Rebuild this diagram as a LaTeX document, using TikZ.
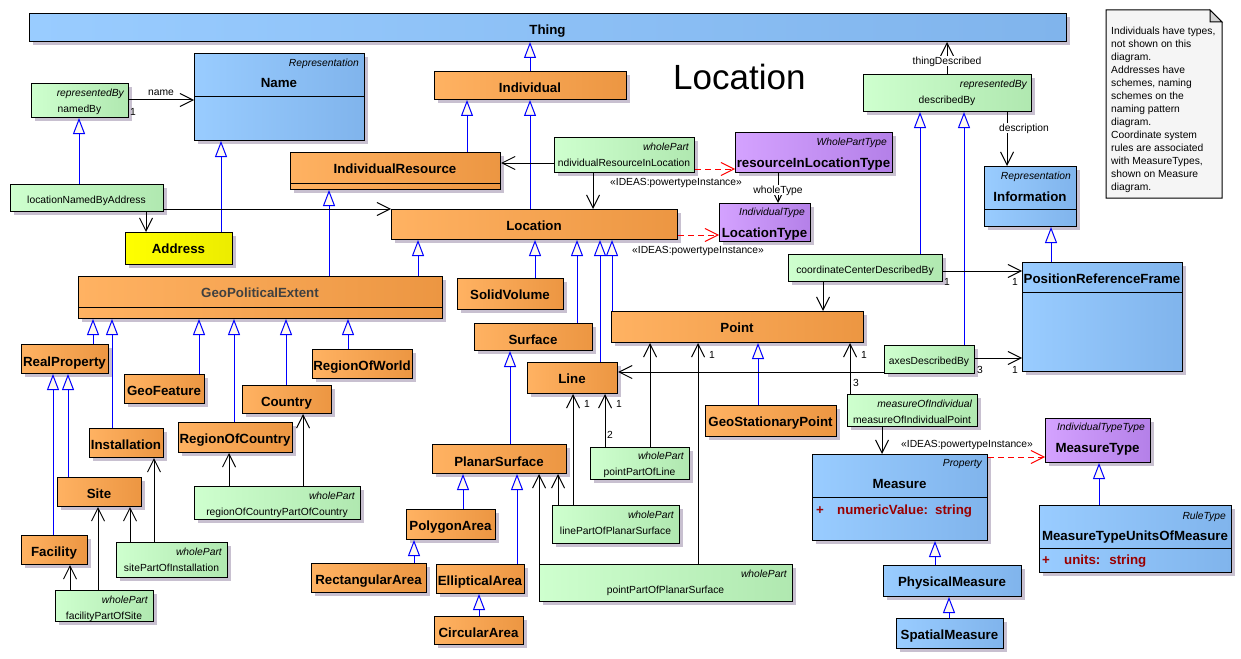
\documentclass[tikz,border=0pt]{standalone}
\usepackage{fontspec}
\setmainfont{Liberation Sans}
\usetikzlibrary{arrows.meta}
\definecolor{oL}{RGB}{255,178,98}
\definecolor{oR}{RGB}{236,150,66}
\definecolor{bL}{RGB}{153,204,255}
\definecolor{bR}{RGB}{128,180,236}
\definecolor{gL}{RGB}{206,255,206}
\definecolor{gR}{RGB}{176,232,176}
\definecolor{pL}{RGB}{212,162,255}
\definecolor{pR}{RGB}{180,128,232}
\definecolor{yL}{RGB}{255,255,0}
\definecolor{yR}{RGB}{236,236,0}
\definecolor{shadowc}{RGB}{200,192,208}
\definecolor{trifill}{RGB}{255,250,238}
\definecolor{genblue}{RGB}{0,0,255}
\definecolor{attrred}{RGB}{153,0,0}
\definecolor{gpegray}{RGB}{64,64,64}
\definecolor{notefill}{RGB}{245,245,245}
\definecolor{foldfill}{RGB}{210,210,210}
\tikzset{
  box/.style={draw=black, line width=1pt, inner sep=0pt, anchor=north west},
  orangeb/.style={box, left color=oL, right color=oR},
  blueb/.style={box, left color=bL, right color=bR},
  greenb/.style={box, left color=gL, right color=gR},
  purpleb/.style={box, left color=pL, right color=pR},
  yellowb/.style={box, left color=yL, right color=yR},
  cname/.style={font=\fontsize{13.3}{15}\selectfont\bfseries, inner sep=0pt, text height=9.5pt, text depth=0pt},
  stereo/.style={font=\fontsize{10.3}{12}\selectfont\itshape, inner sep=0pt, text height=7.4pt, text depth=0pt, anchor=east},
  small/.style={font=\fontsize{10.3}{12}\selectfont, inner sep=0pt, text height=7.4pt, text depth=0pt},
  lbl/.style={small, fill=white, inner sep=1pt},
  attr/.style={font=\fontsize{13.3}{15}\selectfont\bfseries, text=attrred, inner sep=0pt, text height=9.5pt, text depth=0pt},
  divider/.style={draw=black, line width=1pt},
  gen/.style={draw=genblue, line width=1pt, -{Triangle[width=12pt,length=16pt,fill=trifill]}},
  assoc/.style={draw=black, line width=1pt, -{Straight Barb[length=13pt,width=13pt]}},
  dep/.style={draw=red, line width=1pt, dash pattern=on 6pt off 4pt, -{Straight Barb[length=13pt,width=13pt]}},
}
\newcommand{\ubox}[6]{%
  \fill[shadowc] ({#3+4},{#4+4}) rectangle ({#5+4},{#6+4});
  \node[#2, minimum width={#5-#3}, minimum height={#6-#4}] (#1) at (#3,#4) {};
}
\begin{document}
\begin{tikzpicture}[x=1pt,y=-1pt]
\useasboundingbox (0,0) rectangle (1241,658);
\fill[white] (0,0) rectangle (1241,658);

% ---------- boxes ----------
\ubox{Thing}{blueb}{29}{13}{1066}{41}
\ubox{Name}{blueb}{194}{53}{364}{140}
\ubox{namedBy}{greenb}{31}{83}{128}{117}
\ubox{LNBA}{greenb}{10}{184}{163}{211}
\ubox{Individual}{orangeb}{434}{71}{626}{99}
\ubox{IndRes}{orangeb}{290}{152}{500}{189}
\ubox{IRIL}{greenb}{554}{137}{694}{172}
\ubox{RILT}{purpleb}{735}{132}{892}{172}
\ubox{LocationType}{purpleb}{719}{203}{810}{241}
\ubox{Location}{orangeb}{391}{209}{677}{239}
\ubox{Address}{yellowb}{125}{232}{232}{264}
\ubox{GPE}{orangeb}{78}{276}{442}{318}
\ubox{SolidVolume}{orangeb}{457}{278}{563}{309}
\ubox{Surface}{orangeb}{474}{323}{592}{350}
\ubox{Line}{orangeb}{527}{362}{617}{393}
\ubox{Point}{orangeb}{611}{311}{863}{342}
\ubox{GSP}{orangeb}{705}{405}{836}{436}
\ubox{RealProperty}{orangeb}{21}{344}{108}{373}
\ubox{GeoFeature}{orangeb}{124}{374}{204}{403}
\ubox{Country}{orangeb}{242}{385}{331}{413}
\ubox{RegionOfWorld}{orangeb}{312}{349}{412}{378}
\ubox{Installation}{orangeb}{89}{428}{163}{457}
\ubox{RegionOfCountry}{orangeb}{178}{422}{292}{452}
\ubox{Site}{orangeb}{57}{477}{141}{506}
\ubox{Facility}{orangeb}{21}{535}{87}{564}
\ubox{ROCPOC}{greenb}{194}{486}{360}{519}
\ubox{SPOI}{greenb}{116}{542}{227}{577}
\ubox{FPOS}{greenb}{55}{590}{153}{621}
\ubox{PlanarSurface}{orangeb}{432}{444}{566}{473}
\ubox{PolygonArea}{orangeb}{406}{509}{495}{539}
\ubox{RectArea}{orangeb}{311}{563}{426}{592}
\ubox{EllArea}{orangeb}{436}{564}{524}{593}
\ubox{CircArea}{orangeb}{434}{616}{523}{644}
\ubox{PPOL}{greenb}{590}{447}{689}{479}
\ubox{LPOPS}{greenb}{552}{505}{679}{543}
\ubox{PPOPS}{greenb}{539}{564}{792}{601}
\ubox{describedBy}{greenb}{863}{74}{1031}{111}
\ubox{Information}{blueb}{984}{166}{1076}{226}
\ubox{CCDB}{greenb}{788}{254}{942}{281}
\ubox{ADB}{greenb}{884}{345}{974}{373}
\ubox{PRF}{blueb}{1022}{262}{1182}{371}
\ubox{MOIP}{greenb}{847}{394}{977}{426}
\ubox{Measure}{blueb}{812}{454}{987}{540}
\ubox{MeasureType}{purpleb}{1045}{418}{1150}{462}
\ubox{MTUOM}{blueb}{1039}{505}{1231}{572}
\ubox{PhysMeasure}{blueb}{883}{565}{1021}{596}
\ubox{SpatMeasure}{blueb}{896}{618}{1003}{648}

% ---------- compartment dividers ----------
\draw[divider] (Name.west |- 0,97) -- (Name.east |- 0,97);
\draw[divider] (IndRes.west |- 0,183) -- (IndRes.east |- 0,183);
\draw[divider] (GPE.west |- 0,307) -- (GPE.east |- 0,307);
\draw[divider] (Information.west |- 0,209.5) -- (Information.east |- 0,209.5);
\draw[divider] (PRF.west |- 0,292) -- (PRF.east |- 0,292);
\draw[divider] (Measure.west |- 0,497) -- (Measure.east |- 0,497);
\draw[divider] (MTUOM.west |- 0,548) -- (MTUOM.east |- 0,548);

% ---------- texts: blue / purple ----------
\node[cname] (Thing-n) at (547.5,30) {Thing};
\node[stereo] (Name-s) at (359,62.5) {Representation};
\node[cname] (Name-n) at (279,83) {Name};
\node[stereo] (Information-s) at (1071,176) {Representation};
\node[cname] (Information-n) at (1030,197) {Information};
\node[cname] (PRF-n) at (1102,279) {PositionReferenceFrame};
\node[stereo] (Measure-s) at (982,463) {Property};
\node[cname] (Measure-n) at (899.5,484) {Measure};
\node[attr] (Measure-p) at (820,510) {+};
\node[attr, anchor=west] (Measure-a) at (837,510) {numericValue:\hspace{7pt}string};
\node[stereo] (MTUOM-s) at (1226,515.5) {RuleType};
\node[cname] (MTUOM-n) at (1135,536) {MeasureTypeUnitsOfMeasure};
\node[attr] (MTUOM-p) at (1046,560) {+};
\node[attr, anchor=west] (MTUOM-a) at (1064,560) {units:\hspace{9pt}string};
\node[cname] (PhysMeasure-n) at (952,582) {PhysicalMeasure};
\node[cname] (SpatMeasure-n) at (949.5,635) {SpatialMeasure};
\node[stereo] (RILT-s) at (887,142) {WholePartType};
\node[cname] (RILT-n) at (813.5,163) {resourceInLocationType};
\node[stereo] (LocationType-s) at (805,212) {IndividualType};
\node[cname] (LocationType-n) at (764.5,233) {LocationType};
\node[stereo] (MeasureType-s) at (1145,427) {IndividualTypeType};
\node[cname] (MeasureType-n) at (1097.5,448) {MeasureType};

% ---------- texts: orange / yellow ----------
\node[cname] (Individual-n) at (530,88) {Individual};
\node[cname] (IndRes-n) at (395,169) {IndividualResource};
\node[cname] (Location-n) at (534,226) {Location};
\node[cname] (Address-n) at (178.5,249) {Address};
\node[cname, text=gpegray] (GPE-n) at (260,293) {GeoPoliticalExtent};
\node[cname] (SolidVolume-n) at (510,295) {SolidVolume};
\node[cname] (Surface-n) at (533,340) {Surface};
\node[cname] (Line-n) at (572,379) {Line};
\node[cname] (Point-n) at (737,328) {Point};
\node[cname] (GSP-n) at (770.5,422) {GeoStationaryPoint};
\node[cname] (RealProperty-n) at (64.5,362) {RealProperty};
\node[cname] (GeoFeature-n) at (164,391) {GeoFeature};
\node[cname] (Country-n) at (286.5,402) {Country};
\node[cname] (RegionOfWorld-n) at (362,366) {RegionOfWorld};
\node[cname] (Installation-n) at (126,445) {Installation};
\node[cname] (RegionOfCountry-n) at (235,439) {RegionOfCountry};
\node[cname] (Site-n) at (99,494) {Site};
\node[cname] (Facility-n) at (54,552) {Facility};
\node[cname] (PlanarSurface-n) at (499,462) {PlanarSurface};
\node[cname] (PolygonArea-n) at (450.5,526) {PolygonArea};
\node[cname] (RectArea-n) at (368.5,580) {RectangularArea};
\node[cname] (EllArea-n) at (480,581) {EllipticalArea};
\node[cname] (CircArea-n) at (478.5,633) {CircularArea};

% ---------- texts: green ----------
\node[stereo] (namedBy-s) at (124,93) {representedBy};
\node[small] (namedBy-n) at (79.5,109) {namedBy};
\node[small] (LNBA-n) at (86.5,199.5) {locationNamedByAddress};
\node[stereo] (IRIL-s) at (689,147) {wholePart};
\node[small] (IRIL-n) at (624,163) {ndividualResourceInLocation};
\node[stereo] (describedBy-s) at (1027,84) {representedBy};
\node[small] (describedBy-n) at (947,100) {describedBy};
\node[small] (CCDB-n) at (865,270) {coordinateCenterDescribedBy};
\node[small] (ADB-n) at (929,361) {axesDescribedBy};
\node[stereo] (MOIP-s) at (972,403.5) {measureOfIndividual};
\node[small] (MOIP-n) at (912,419.5) {measureOfIndividualPoint};
\node[stereo] (PPOL-s) at (684,455.5) {wholePart};
\node[small] (PPOL-n) at (639.5,472) {pointPartOfLine};
\node[stereo] (LPOPS-s) at (674,515) {wholePart};
\node[small] (LPOPS-n) at (615.5,531) {linePartOfPlanarSurface};
\node[stereo] (PPOPS-s) at (787,574) {wholePart};
\node[small] (PPOPS-n) at (665.5,589.5) {pointPartOfPlanarSurface};
\node[stereo] (ROCPOC-s) at (355,495.5) {wholePart};
\node[small] (ROCPOC-n) at (277,512) {regionOfCountryPartOfCountry};
\node[stereo] (SPOI-s) at (222,552) {wholePart};
\node[small] (SPOI-n) at (171.5,567.5) {sitePartOfInstallation};
\node[stereo] (FPOS-s) at (148,599.5) {wholePart};
\node[small] (FPOS-n) at (104,615.5) {facilityPartOfSite};

% ---------- title and note ----------
\node[font=\fontsize{35}{40}\selectfont, anchor=base west, inner sep=0pt] (title) at (673,90) {Location};
\draw[fill=notefill, line width=1pt] (1106,10) -- (1210,10) -- (1222,22) -- (1222,198) -- (1106,198) -- cycle;
\draw[fill=foldfill, line width=1pt] (1210,10) -- (1210,22) -- (1222,22) -- cycle;
\node[font=\fontsize{10.3}{13}\selectfont, align=left, anchor=north west, inner sep=0pt] (note) at (1111,27)
  {Individuals have types,\\not shown on this\\diagram.\\Addresses have\\schemes, naming\\schemes on the\\naming pattern\\diagram.\\Coordinate system\\rules are associated\\with MeasureTypes,\\shown on Measure\\diagram.};

% ---------- generalizations ----------
\draw[gen] (Individual.north -| 530,0) -- (Thing.south -| 530,0);
\draw[gen] (IndRes.north -| 467,0) -- (Individual.south -| 467,0);
\draw[gen] (Location.north -| 530,0) -- (Individual.south -| 530,0);
\draw[gen] (Address.north -| 221,0) -- (Name.south -| 221,0);
\draw[gen] (LNBA.north -| 79,0) -- (namedBy.south -| 79,0);
\draw[gen] (GPE.north -| 329,0) -- (IndRes.south -| 329,0);
\draw[gen] (GPE.north -| 418,0) -- (Location.south -| 418,0);
\draw[gen] (SolidVolume.north -| 535,0) -- (Location.south -| 535,0);
\draw[gen] (Surface.north -| 577,0) -- (Location.south -| 577,0);
\draw[gen] (Line.north -| 600,0) -- (Location.south -| 600,0);
\draw[gen] (Point.north -| 612,0) -- (Location.south -| 612,0);
\draw[gen] (PlanarSurface.north -| 510,0) -- (Surface.south -| 510,0);
\draw[gen] (PolygonArea.north -| 463,0) -- (PlanarSurface.south -| 463,0);
\draw[gen] (EllArea.north -| 517,0) -- (PlanarSurface.south -| 517,0);
\draw[gen] (RectArea.north -| 414,0) -- (PolygonArea.south -| 414,0);
\draw[gen] (CircArea.north -| 479,0) -- (EllArea.south -| 479,0);
\draw[gen] (GSP.north -| 758,0) -- (Point.south -| 758,0);
\draw[gen] (RealProperty.north -| 93,0) -- (GPE.south -| 93,0);
\draw[gen] (Installation.north -| 112,0) -- (GPE.south -| 112,0);
\draw[gen] (GeoFeature.north -| 199,0) -- (GPE.south -| 199,0);
\draw[gen] (RegionOfCountry.north -| 234,0) -- (GPE.south -| 234,0);
\draw[gen] (Country.north -| 286,0) -- (GPE.south -| 286,0);
\draw[gen] (RegionOfWorld.north -| 348,0) -- (GPE.south -| 348,0);
\draw[gen] (Facility.north -| 53,0) -- (RealProperty.south -| 53,0);
\draw[gen] (Site.north -| 68,0) -- (RealProperty.south -| 68,0);
\draw[gen] (CCDB.north -| 920,0) -- (describedBy.south -| 920,0);
\draw[gen] (ADB.north -| 964,0) -- (describedBy.south -| 964,0);
\draw[gen] (PRF.north -| 1051,0) -- (Information.south -| 1051,0);
\draw[gen] (PhysMeasure.north -| 935,0) -- (Measure.south -| 935,0);
\draw[gen] (SpatMeasure.north -| 949,0) -- (PhysMeasure.south -| 949,0);
\draw[gen] (MTUOM.north -| 1099,0) -- (MeasureType.south -| 1099,0);

% ---------- associations ----------
\draw[assoc] (namedBy.east |- 0,100) -- (Name.west |- 0,100);
\draw[assoc] (LNBA.south -| 146,0) -- (Address.north -| 146,0);
\draw[assoc] (LNBA.east |- 0,209) -- (Location.west |- 0,209);
\draw[assoc] (IRIL.west |- 0,163) -- (IndRes.east |- 0,163);
\draw[assoc] (IRIL.south -| 593,0) -- (Location.north -| 593,0);
\draw[assoc] (describedBy.north -| 947,0) -- (Thing.south -| 947,0);
\draw[assoc] (describedBy.south -| 1007,0) -- (Information.north -| 1007,0);
\draw[assoc] (RILT.south -| 778,0) -- (LocationType.north -| 778,0);
\draw[assoc] (CCDB.east |- 0,271) -- (PRF.west |- 0,271);
\draw[assoc] (CCDB.south -| 823,0) -- (Point.north -| 823,0);
\draw[assoc] (ADB.east |- 0,358) -- (PRF.west |- 0,358);
\draw[assoc] (ADB.west |- 0,372) -- (Line.east |- 0,372);
\draw[assoc] (MOIP.north -| 850,0) -- (Point.south -| 850,0);
\draw[assoc] (MOIP.south -| 882,0) -- (Measure.north -| 882,0);
\draw[assoc] (PPOL.north -| 605,0) -- (Line.south -| 605,0);
\draw[assoc] (PPOL.north -| 650,0) -- (Point.south -| 650,0);
\draw[assoc] (LPOPS.north -| 573,0) -- (Line.south -| 573,0);
\draw[assoc] (LPOPS.north -| 558,0) -- (PlanarSurface.south -| 558,0);
\draw[assoc] (PPOPS.north -| 539,0) -- (PlanarSurface.south -| 539,0);
\draw[assoc] (PPOPS.north -| 698,0) -- (Point.south -| 698,0);
\draw[assoc] (ROCPOC.north -| 229,0) -- (RegionOfCountry.south -| 229,0);
\draw[assoc] (ROCPOC.north -| 303,0) -- (Country.south -| 303,0);
\draw[assoc] (SPOI.north -| 130,0) -- (Site.south -| 130,0);
\draw[assoc] (SPOI.north -| 154,0) -- (Installation.south -| 154,0);
\draw[assoc] (FPOS.north -| 70,0) -- (Facility.south -| 70,0);
\draw[assoc] (FPOS.north -| 98,0) -- (Site.south -| 98,0);

% ---------- dependencies ----------
\draw[dep] (IRIL.east |- 0,169) -- (RILT.west |- 0,169);
\draw[dep] (Location.east |- 0,235) -- (LocationType.west |- 0,235);
\draw[dep] (Measure.east |- 0,457) -- (MeasureType.west |- 0,457);

% ---------- connector labels ----------
\node[small] (l-name) at (161,92) {name};
\node[small] (m-name) at (133,112) {1};
\node[lbl] (l-thing) at (947,61) {thingDescribed};
\node[lbl] (l-desc) at (1024,128) {description};
\node[lbl] (l-whole) at (778,190) {wholeType};
\node[small] (p1) at (676,182) {«IDEAS:powertypeInstance»};
\node[small] (p2) at (698,250) {«IDEAS:powertypeInstance»};
\node[small] (p3) at (967,444) {«IDEAS:powertypeInstance»};
\node[small] (m1) at (947,282) {1};
\node[small] (m2) at (1015,282) {1};
\node[small] (m3) at (980,370) {3};
\node[small] (m4) at (1015,370) {1};
\node[small] (m5) at (864,355) {1};
\node[small] (m6) at (856,383) {3};
\node[small] (m7) at (712,355) {1};
\node[small] (m8) at (587,404) {1};
\node[small] (m9) at (619,404) {1};
\node[small] (m10) at (610,435) {2};
\end{tikzpicture}
\end{document}
